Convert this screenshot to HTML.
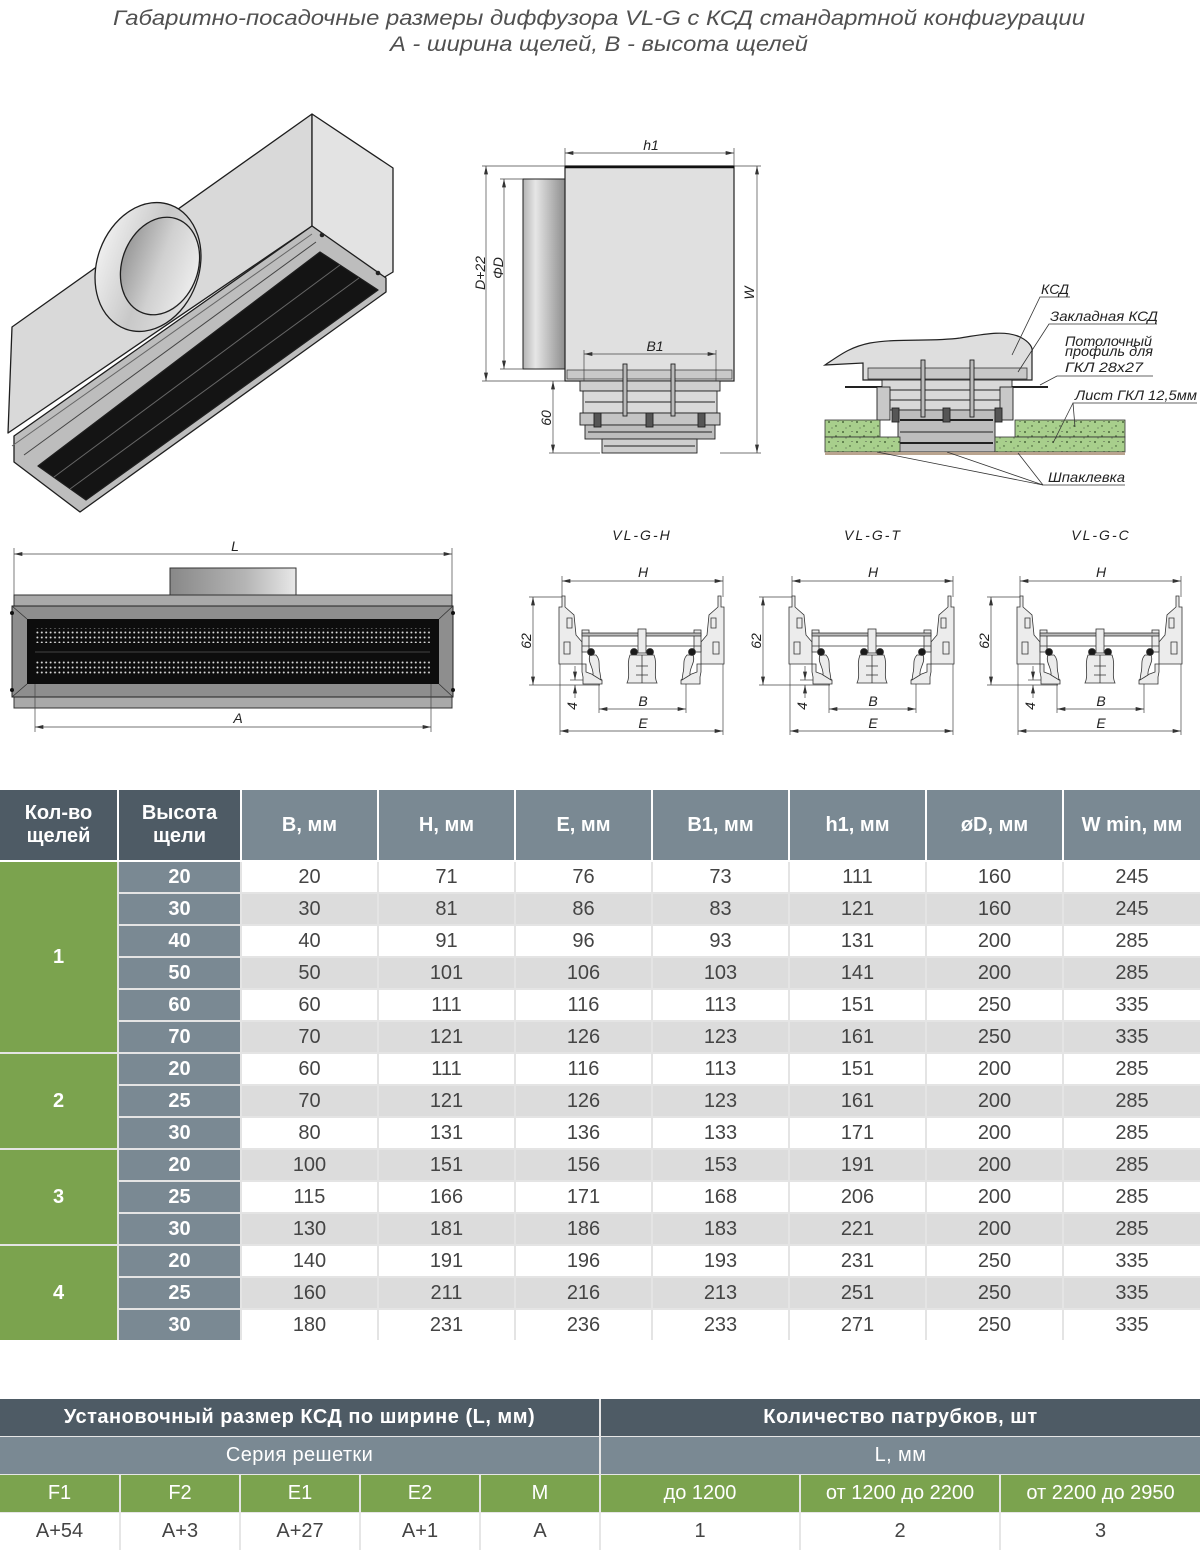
<!DOCTYPE html>
<html><head><meta charset="utf-8">
<style>
*{margin:0;padding:0;box-sizing:border-box}
body{width:1200px;height:1559px;background:#fff;position:relative;overflow:hidden;font-family:"Liberation Sans",sans-serif}
.grid{position:absolute;left:0;display:grid;width:1200px}
.grid>div{display:flex;align-items:center;justify-content:center;text-align:center}
.hd{background:#4e5b65;color:#fff;font-weight:bold;font-size:20px;line-height:23px}
.hl{background:#7a8993;color:#fff;font-weight:bold;font-size:20px}
.n{background:#7ba34e;color:#fff;font-weight:bold;font-size:20px}
.h{background:#7a8993;color:#fff;font-weight:bold;font-size:20px}
.w{background:#fff;color:#444;font-size:20px}
.g{background:#dcdcdc;color:#444;font-size:20px}
.t2d{background:#4e5b65;color:#fff;font-weight:bold;font-size:20px;letter-spacing:0.5px}
.t2l{background:#7a8993;color:#fff;font-size:20px;letter-spacing:0.4px}
.t2g{background:#7ba34e;color:#fff;font-size:20px}
.t2w{background:#fff;color:#444;font-size:20px}
</style></head>
<body>
<svg width="1200" height="770" viewBox="0 0 1200 770" style="position:absolute;left:0;top:0" font-family="Liberation Sans, sans-serif">
<defs>
 <marker id="a" viewBox="0 0 10 6" refX="10" refY="3" markerWidth="9" markerHeight="5" orient="auto-start-reverse" markerUnits="userSpaceOnUse"><path d="M0,0.6 L10,3 L0,5.4 z" fill="#333"/></marker>
 <linearGradient id="pipeH" x1="0" x2="1" y1="0" y2="0"><stop offset="0" stop-color="#b4b4b4"/><stop offset="0.3" stop-color="#e6e6e6"/><stop offset="1" stop-color="#8e8e8e"/></linearGradient>
 <linearGradient id="pipeF" x1="0" x2="1" y1="0" y2="0"><stop offset="0" stop-color="#888"/><stop offset="0.6" stop-color="#b5b5b5"/><stop offset="1" stop-color="#e8e8e8"/></linearGradient>
 <linearGradient id="coll" x1="0" x2="1" y1="0" y2="0"><stop offset="0" stop-color="#eeeeee"/><stop offset="0.5" stop-color="#c8c8c8"/><stop offset="1" stop-color="#e0e0e0"/></linearGradient>
 <linearGradient id="inner" x1="0" x2="1" y1="0" y2="0"><stop offset="0" stop-color="#9a9a9a"/><stop offset="0.5" stop-color="#d0d0d0"/><stop offset="1" stop-color="#ececec"/></linearGradient>
 <pattern id="dots" width="4.4" height="5" patternUnits="userSpaceOnUse"><circle cx="2.2" cy="2.5" r="1" fill="#dcdcdc"/></pattern>
 <pattern id="spk" width="14" height="10" patternUnits="userSpaceOnUse"><rect width="14" height="10" fill="#a8cf8c"/><circle cx="3" cy="2" r="0.9" fill="#2f4a24"/><circle cx="10" cy="6" r="0.7" fill="#2f4a24"/><circle cx="6" cy="8" r="0.5" fill="#333"/><circle cx="12" cy="1.5" r="0.5" fill="#333"/></pattern>
 <g id="half" fill="#ececec" stroke="#333" stroke-width="0.8">
  <polygon points="-1,27 2,27 2,16 5,16 5,27 14,35 16,55 22,62 22,84 -1,84"/>
  <path d="M4,62 h6 v12 h-6 z M7,38 h5 v10 h-5 z"/>
  <polygon points="22,84 26,84 26,92 34,95 42,100 42,104 23,104 23,97 22,92"/>
  <path d="M30,75 C27,82 34,88 33,95 L41,100 L40,93 C38,86 41,80 36,75 Z"/>
  <rect x="22" y="50" width="7" height="22"/>
  <circle cx="31" cy="72" r="3.5" fill="#1a1a1a"/>
 </g>
 <g id="prof">
  <g stroke="#444" stroke-width="0.7" fill="none">
   <line x1="2" y1="-4" x2="2" y2="17"/>
   <line x1="163" y1="-4" x2="163" y2="17"/>
   <line x1="2" y1="1" x2="163" y2="1" marker-start="url(#a)" marker-end="url(#a)"/>
   <line x1="-31" y1="17" x2="2" y2="17"/>
   <line x1="-31" y1="105" x2="40" y2="105"/>
   <line x1="-27" y1="17" x2="-27" y2="105" marker-start="url(#a)" marker-end="url(#a)"/>
   <line x1="15" y1="86" x2="15" y2="100" marker-end="url(#a)"/>
   <line x1="15" y1="118" x2="15" y2="105" marker-end="url(#a)"/>
   <line x1="10" y1="100" x2="24" y2="100"/>
   <line x1="39" y1="104" x2="39" y2="133"/>
   <line x1="126" y1="104" x2="126" y2="133"/>
   <line x1="39" y1="129" x2="126" y2="129" marker-start="url(#a)" marker-end="url(#a)"/>
   <line x1="0" y1="84" x2="0" y2="155"/>
   <line x1="163" y1="84" x2="163" y2="155"/>
   <line x1="0" y1="151" x2="163" y2="151" marker-start="url(#a)" marker-end="url(#a)"/>
  </g>
  <use href="#half"/>
  <use href="#half" transform="matrix(-1 0 0 1 163 0)"/>
  <g stroke="#333" stroke-width="0.8">
   <rect x="22" y="53" width="119" height="3" fill="#bbb"/>
   <line x1="22" y1="66" x2="141" y2="66"/>
   <rect x="78" y="49" width="8" height="24" fill="#ececec"/>
   <circle cx="74" cy="72" r="3.5" fill="#1a1a1a"/>
   <circle cx="90" cy="72" r="3.5" fill="#1a1a1a"/>
   <path d="M70,75 C66,85 71,95 67,103 L97,103 C93,95 98,85 94,75 Z" fill="#ececec"/>
   <path d="M82,75 V103 M76,86 H88 M76,95 H88" fill="none"/>
  </g>
 </g>
</defs>

<!-- Title -->
<text x="113" y="25" font-size="21" font-style="italic" fill="#505050" textLength="972" lengthAdjust="spacingAndGlyphs">Габаритно-посадочные размеры диффузора VL-G с КСД стандартной конфигурации</text>
<text x="390" y="51" font-size="21" font-style="italic" fill="#505050" textLength="418" lengthAdjust="spacingAndGlyphs">А - ширина щелей, В - высота щелей</text>

<!-- Isometric box -->
<g stroke="#1e1e1e" stroke-width="1.3" stroke-linejoin="round">
 <polygon points="12,327 312,114 312,226 8,433" fill="#d9d9d9"/>
 <polygon points="312,114 393,168 393,272 383,278 312,226" fill="#e3e3e3"/>
 <polygon points="312,226 386,278 386,292 80,512 14,462 14,436" fill="#bdbdbd"/>
 <polygon points="320,252 378,290 86,500 38,466" fill="#141414"/>
 <ellipse cx="148" cy="267" rx="51" ry="66" transform="rotate(20 148 267)" fill="url(#coll)"/>
 <ellipse cx="160" cy="266" rx="38" ry="50" transform="rotate(20 160 266)" fill="url(#inner)"/>
</g>
<g stroke="#666" stroke-width="1" fill="none">
 <line x1="312" y1="234" x2="12" y2="446"/>
 <line x1="316" y1="242" x2="24" y2="455" stroke="#444"/>
 <line x1="340" y1="265" x2="54" y2="477"/>
 <line x1="359" y1="278" x2="70" y2="489"/>
</g>
<circle cx="322" cy="235" r="2.3" fill="#222"/>
<circle cx="378" cy="273" r="2.3" fill="#222"/>

<!-- Side view -->
<rect x="523" y="179" width="42" height="190" fill="url(#pipeH)" stroke="#222"/>
<rect x="565" y="166" width="169" height="215" fill="#e0e0e0" stroke="#222" stroke-width="1.2"/>
<line x1="565" y1="167" x2="734" y2="167" stroke="#111" stroke-width="2.5"/>
<rect x="567" y="370" width="165" height="9" fill="#c9c9c9" stroke="#444" stroke-width="0.8"/>
<g stroke="#222" stroke-width="0.9">
 <rect x="580" y="381" width="140" height="10" fill="#cfcfcf"/>
 <rect x="583" y="391" width="134" height="22" fill="#d9d9d9"/>
 <rect x="580" y="413" width="140" height="12" fill="#c4c4c4"/>
 <rect x="585" y="425" width="130" height="14" fill="#bdbdbd"/>
 <rect x="602" y="439" width="95" height="14" fill="#cfcfcf"/>
 <line x1="585" y1="402" x2="715" y2="402"/>
 <line x1="588" y1="432" x2="712" y2="432"/>
 <line x1="604" y1="446" x2="695" y2="446"/>
 <rect x="623" y="364" width="4" height="52" fill="#bbb"/>
 <rect x="671" y="364" width="4" height="52" fill="#bbb"/>
 <rect x="594" y="413" width="7" height="14" fill="#555"/>
 <rect x="646" y="413" width="7" height="14" fill="#555"/>
 <rect x="698" y="413" width="7" height="14" fill="#555"/>
</g>
<g stroke="#444" stroke-width="0.7" fill="none">
 <line x1="565" y1="148" x2="565" y2="166"/><line x1="734" y1="148" x2="734" y2="166"/>
 <line x1="565" y1="153" x2="734" y2="153" marker-start="url(#a)" marker-end="url(#a)"/>
 <line x1="482" y1="166" x2="565" y2="166"/><line x1="482" y1="381" x2="565" y2="381"/>
 <line x1="486" y1="166" x2="486" y2="381" marker-start="url(#a)" marker-end="url(#a)"/>
 <line x1="500" y1="179" x2="523" y2="179"/><line x1="500" y1="369" x2="523" y2="369"/>
 <line x1="504" y1="179" x2="504" y2="369" marker-start="url(#a)" marker-end="url(#a)"/>
 <line x1="734" y1="166" x2="761" y2="166"/><line x1="720" y1="453" x2="761" y2="453"/>
 <line x1="757" y1="166" x2="757" y2="453" marker-start="url(#a)" marker-end="url(#a)"/>
 <line x1="549" y1="453" x2="600" y2="453"/>
 <line x1="553" y1="381" x2="553" y2="453" marker-start="url(#a)" marker-end="url(#a)"/>
 <line x1="584" y1="350" x2="584" y2="381"/><line x1="716" y1="350" x2="716" y2="381"/>
 <line x1="584" y1="354" x2="716" y2="354" marker-start="url(#a)" marker-end="url(#a)"/>
</g>
<g font-size="14" font-style="italic" fill="#222">
 <text x="651" y="150" text-anchor="middle">h1</text>
 <text x="655" y="351" text-anchor="middle">B1</text>
 <text transform="translate(485,273) rotate(-90)" text-anchor="middle">D+22</text>
 <text transform="translate(503,268) rotate(-90)" text-anchor="middle">ΦD</text>
 <text transform="translate(754,293) rotate(-90)" text-anchor="middle">W</text>
 <text transform="translate(551,418) rotate(-90)" text-anchor="middle">60</text>
</g>

<!-- Installation section -->
<path d="M825,365 C840,355 850,347 870,343 C900,338 930,342 960,338 C985,334 1005,330 1020,337 C1030,342 1033,348 1032,352 L1032,380 L863,380 L863,363 Z" fill="#dedede" stroke="#222" stroke-width="1.2"/>
<rect x="868" y="368" width="159" height="11" fill="#c8c8c8" stroke="#333" stroke-width="0.8"/>
<line x1="845" y1="387" x2="1048" y2="387" stroke="#222" stroke-width="2"/>
<g stroke="#222" stroke-width="0.9">
 <rect x="882" y="380" width="130" height="30" fill="#d8d8d8"/>
 <line x1="884" y1="390" x2="1010" y2="390"/>
 <line x1="884" y1="400" x2="1010" y2="400"/>
 <rect x="877" y="387" width="13" height="33" fill="#c8c8c8"/>
 <rect x="1000" y="387" width="13" height="33" fill="#c8c8c8"/>
 <rect x="898" y="410" width="97" height="42" fill="#bdbdbd"/>
 <line x1="900" y1="420" x2="993" y2="420" stroke-width="2"/>
 <line x1="900" y1="432" x2="993" y2="432"/>
 <line x1="900" y1="443" x2="993" y2="443" stroke-width="2"/>
 <rect x="921" y="360" width="4" height="57" fill="#bbb"/>
 <rect x="970" y="360" width="4" height="57" fill="#bbb"/>
 <rect x="892" y="408" width="7" height="14" fill="#555"/>
 <rect x="943" y="408" width="7" height="14" fill="#555"/>
 <rect x="995" y="408" width="7" height="14" fill="#555"/>
</g>
<g stroke="#333" stroke-width="0.8" fill="url(#spk)">
 <rect x="825" y="420" width="55" height="17"/>
 <rect x="825" y="437" width="75" height="15"/>
 <rect x="1015" y="420" width="110" height="17"/>
 <rect x="995" y="437" width="130" height="15"/>
</g>
<rect x="825" y="452" width="300" height="3" fill="#b9a48f"/>
<g stroke="#333" stroke-width="0.8" fill="none">
 <polyline points="1070,297 1040,297 1012,355"/>
 <polyline points="1157,324 1049,324 1018,372"/>
 <polyline points="1153,376 1057,376 1040,385"/>
 <polyline points="1197,403 1073,403 1075,427"/>
 <line x1="1073" y1="403" x2="1053" y2="443"/>
 <polyline points="1125,485 1043,485 877,452"/>
 <line x1="1043" y1="485" x2="947" y2="452"/>
 <line x1="1043" y1="485" x2="1018" y2="453"/>
</g>
<g font-size="14" font-style="italic" fill="#222">
 <text x="1041" y="294" textLength="28" lengthAdjust="spacingAndGlyphs">КСД</text>
 <text x="1050" y="321" textLength="108" lengthAdjust="spacingAndGlyphs">Закладная КСД</text>
 <text x="1065" y="346" textLength="87" lengthAdjust="spacingAndGlyphs">Потолочный</text>
 <text x="1065" y="356" textLength="88" lengthAdjust="spacingAndGlyphs">профиль для</text>
 <text x="1065" y="372" textLength="78" lengthAdjust="spacingAndGlyphs">ГКЛ 28x27</text>
 <text x="1075" y="400" textLength="122" lengthAdjust="spacingAndGlyphs">Лист ГКЛ 12,5мм</text>
 <text x="1048" y="482" textLength="77" lengthAdjust="spacingAndGlyphs">Шпаклевка</text>
</g>

<!-- Front view -->
<g stroke="#444" stroke-width="0.7">
 <line x1="14" y1="548" x2="14" y2="595"/>
 <line x1="452" y1="548" x2="452" y2="595"/>
 <line x1="14" y1="554" x2="452" y2="554" marker-start="url(#a)" marker-end="url(#a)"/>
</g>
<rect x="170" y="568" width="126" height="27" fill="url(#pipeF)" stroke="#333"/>
<rect x="14" y="595" width="438" height="11" fill="#a9a9a9" stroke="#333"/>
<rect x="14" y="697" width="438" height="11" fill="#a9a9a9" stroke="#333"/>
<rect x="12" y="606" width="441" height="91" fill="#8e8e8e" stroke="#222"/>
<rect x="27" y="619" width="412" height="65" fill="#0d0d0d"/>
<g stroke="#333" stroke-width="0.8">
 <line x1="12" y1="606" x2="27" y2="619"/><line x1="453" y1="606" x2="439" y2="619"/>
 <line x1="12" y1="697" x2="27" y2="684"/><line x1="453" y1="697" x2="439" y2="684"/>
</g>
<rect x="35" y="628" width="395" height="15" fill="url(#dots)"/>
<rect x="35" y="660" width="395" height="15" fill="url(#dots)"/>
<line x1="35" y1="652" x2="430" y2="652" stroke="#444"/>
<circle cx="12" cy="613" r="2" fill="#111"/><circle cx="12" cy="690" r="2" fill="#111"/>
<circle cx="453" cy="613" r="2" fill="#111"/><circle cx="453" cy="690" r="2" fill="#111"/>
<g stroke="#444" stroke-width="0.7">
 <line x1="35" y1="684" x2="35" y2="732"/>
 <line x1="431" y1="684" x2="431" y2="732"/>
 <line x1="35" y1="727" x2="431" y2="727" marker-start="url(#a)" marker-end="url(#a)"/>
</g>
<g font-size="14" font-style="italic" fill="#222">
 <text x="235" y="551" text-anchor="middle">L</text>
 <text x="238" y="723" text-anchor="middle">A</text>
</g>

<!-- Profiles -->
<use href="#prof" x="560" y="580"/>
<use href="#prof" x="790" y="580"/>
<use href="#prof" x="1018" y="580"/>
<g font-size="14" font-style="italic" fill="#222" text-anchor="middle">
 <text x="642" y="540" letter-spacing="2">VL-G-H</text>
 <text x="873" y="540" letter-spacing="2">VL-G-T</text>
 <text x="1101" y="540" letter-spacing="2">VL-G-C</text>
 <text x="643" y="577">H</text><text x="873" y="577">H</text><text x="1101" y="577">H</text>
 <text x="643" y="706">B</text><text x="873" y="706">B</text><text x="1101" y="706">B</text>
 <text x="643" y="728">E</text><text x="873" y="728">E</text><text x="1101" y="728">E</text>
 <text transform="translate(531,641) rotate(-90)">62</text>
 <text transform="translate(761,641) rotate(-90)">62</text>
 <text transform="translate(989,641) rotate(-90)">62</text>
 <text transform="translate(577,706) rotate(-90)">4</text>
 <text transform="translate(807,706) rotate(-90)">4</text>
 <text transform="translate(1035,706) rotate(-90)">4</text>
</g>
</svg>

<!-- Main table header -->
<div class="grid" style="top:790px;grid-template-columns:117px 121px 135px 135px 135px 135px 135px 135px 136px;grid-template-rows:70px;gap:2px;background:#fff">
 <div class="hd">Кол-во<br>щелей</div>
 <div class="hd">Высота<br>щели</div>
 <div class="hl">B, мм</div>
 <div class="hl">H, мм</div>
 <div class="hl">E, мм</div>
 <div class="hl">B1, мм</div>
 <div class="hl">h1, мм</div>
 <div class="hl">øD, мм</div>
 <div class="hl">W min, мм</div>
</div>
<!-- Main table body -->
<div class="grid" style="top:862px;grid-template-columns:117px 121px 135px 135px 135px 135px 135px 135px 136px;grid-template-rows:repeat(15,30px);gap:2px;background:#e4e4e4">
 <div class="n" style="grid-row:span 6">1</div>
 <div class="h">20</div><div class="w">20</div><div class="w">71</div><div class="w">76</div><div class="w">73</div><div class="w">111</div><div class="w">160</div><div class="w">245</div>
 <div class="h">30</div><div class="g">30</div><div class="g">81</div><div class="g">86</div><div class="g">83</div><div class="g">121</div><div class="g">160</div><div class="g">245</div>
 <div class="h">40</div><div class="w">40</div><div class="w">91</div><div class="w">96</div><div class="w">93</div><div class="w">131</div><div class="w">200</div><div class="w">285</div>
 <div class="h">50</div><div class="g">50</div><div class="g">101</div><div class="g">106</div><div class="g">103</div><div class="g">141</div><div class="g">200</div><div class="g">285</div>
 <div class="h">60</div><div class="w">60</div><div class="w">111</div><div class="w">116</div><div class="w">113</div><div class="w">151</div><div class="w">250</div><div class="w">335</div>
 <div class="h">70</div><div class="g">70</div><div class="g">121</div><div class="g">126</div><div class="g">123</div><div class="g">161</div><div class="g">250</div><div class="g">335</div>
 <div class="n" style="grid-row:span 3">2</div>
 <div class="h">20</div><div class="w">60</div><div class="w">111</div><div class="w">116</div><div class="w">113</div><div class="w">151</div><div class="w">200</div><div class="w">285</div>
 <div class="h">25</div><div class="g">70</div><div class="g">121</div><div class="g">126</div><div class="g">123</div><div class="g">161</div><div class="g">200</div><div class="g">285</div>
 <div class="h">30</div><div class="w">80</div><div class="w">131</div><div class="w">136</div><div class="w">133</div><div class="w">171</div><div class="w">200</div><div class="w">285</div>
 <div class="n" style="grid-row:span 3">3</div>
 <div class="h">20</div><div class="g">100</div><div class="g">151</div><div class="g">156</div><div class="g">153</div><div class="g">191</div><div class="g">200</div><div class="g">285</div>
 <div class="h">25</div><div class="w">115</div><div class="w">166</div><div class="w">171</div><div class="w">168</div><div class="w">206</div><div class="w">200</div><div class="w">285</div>
 <div class="h">30</div><div class="g">130</div><div class="g">181</div><div class="g">186</div><div class="g">183</div><div class="g">221</div><div class="g">200</div><div class="g">285</div>
 <div class="n" style="grid-row:span 3">4</div>
 <div class="h">20</div><div class="w">140</div><div class="w">191</div><div class="w">196</div><div class="w">193</div><div class="w">231</div><div class="w">250</div><div class="w">335</div>
 <div class="h">25</div><div class="g">160</div><div class="g">211</div><div class="g">216</div><div class="g">213</div><div class="g">251</div><div class="g">250</div><div class="g">335</div>
 <div class="h">30</div><div class="w">180</div><div class="w">231</div><div class="w">236</div><div class="w">233</div><div class="w">271</div><div class="w">250</div><div class="w">335</div>
</div>

<!-- Second table -->
<div class="grid" style="top:1399px;grid-template-columns:119px 118px 118px 118px 118px 198px 198px 199px;grid-template-rows:37px 37px 37px 37px;row-gap:1px;column-gap:2px;background:#e6e6e6">
 <div class="t2d" style="grid-column:1 / span 5">Установочный размер КСД по ширине (L, мм)</div>
 <div class="t2d" style="grid-column:6 / span 3">Количество патрубков, шт</div>
 <div class="t2l" style="grid-column:1 / span 5">Серия решетки</div>
 <div class="t2l" style="grid-column:6 / span 3">L, мм</div>
 <div class="t2g">F1</div><div class="t2g">F2</div><div class="t2g">E1</div><div class="t2g">E2</div><div class="t2g">M</div>
 <div class="t2g">до 1200</div><div class="t2g">от 1200 до 2200</div><div class="t2g">от 2200 до 2950</div>
 <div class="t2w">A+54</div><div class="t2w">A+3</div><div class="t2w">A+27</div><div class="t2w">A+1</div><div class="t2w">A</div>
 <div class="t2w">1</div><div class="t2w">2</div><div class="t2w">3</div>
</div>
</body></html>
